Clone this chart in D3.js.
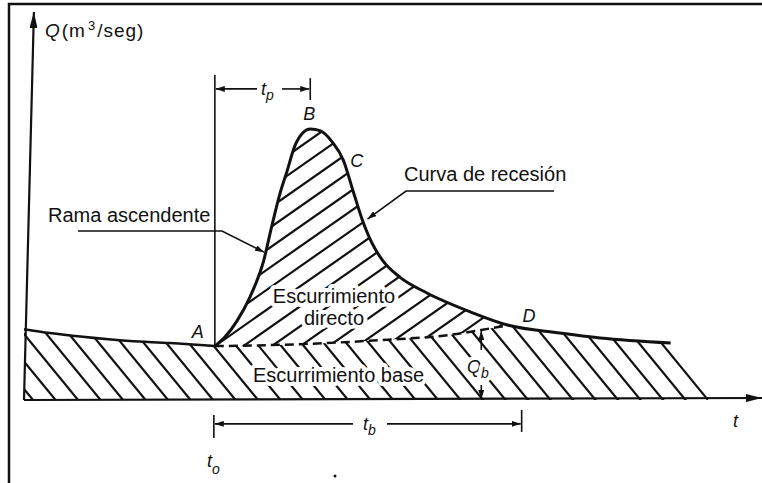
<!DOCTYPE html>
<html>
<head>
<meta charset="utf-8">
<script src="https://cdn.jsdelivr.net/npm/d3@7"></script>
<style>
  body { margin: 0; background: #fff; }
  svg { display: block; font-family: "Liberation Sans", Arial, sans-serif; }
  .lbl { font-size: 20px; fill: #111; }
  .it { font-style: italic; }
  .halo { paint-order: stroke; stroke: #fff; stroke-width: 8px; stroke-linejoin: round; }
</style>
</head>
<body>
<div id="chart"></div>
<script>
// values (t and Q in relative units, 0-100)
const baseT = [0, 3.5, 8, 14.4, 19.9, 26];
const baseQ = [18.4, 17.4, 16.4, 15.3, 14.8, 14.0];

const hydroT = [26, 27.4, 29.0, 30.8, 32.6, 33.8, 34.9, 35.8, 36.9, 38.0, 39.0, 40.4, 42.0, 43.5, 44.8, 46.0, 47.4, 48.8, 51.2, 54.9, 60.8, 66.0, 73.0, 78.5, 88.1];
const hydroQ = [14.0, 16.4, 20.5, 26.8, 35.8, 45.5, 53.8, 59.2, 66.0, 69.4, 70.4, 69.9, 67.0, 62.3, 54.5, 47.3, 40.8, 36.4, 31.9, 27.8, 22.9, 19.4, 17.4, 16.1, 14.8];

// separation line between direct runoff and base flow (A -> D)
const sepT = [26, 37.6, 48.9, 58.0, 62.3, 66.0];
const sepQ = [14.0, 14.5, 15.6, 16.9, 18.2, 19.4];

const baseEndT = 93.2;   // base flow hatch reaches the t axis here
const tbEndT = 67.8;     // end of t_b
const qbT = 62.3;        // where Q_b is measured

const W = 762, H = 483;
const x = d3.scaleLinear().domain([0, 100]).range([24, 758]);
const y = d3.scaleLinear().domain([0, 100]).range([400, 15]);

const pts = (ts, qs) => ts.map((t, i) => ({ t, q: qs[i] }));
const base = pts(baseT, baseQ);
const hydro = pts(hydroT, hydroQ);
const sep = pts(sepT, sepQ);

const iB = d3.maxIndex(hydroQ);
const iC = 13;
const iD = hydroT.indexOf(sepT[sepT.length - 1]);
const A = hydro[0], B = hydro[iB], C = hydro[iC], D = hydro[iD];
const tail = hydro[hydro.length - 1];

const line = d3.line().x(d => x(d.t)).y(d => y(d.q)).curve(d3.curveMonotoneX);
const cont = p => line(p).replace(/^M/, "L");

const svg = d3.select("#chart").append("svg").attr("width", W).attr("height", H);
const defs = svg.append("defs");

function marker(id, w, h) {
    defs.append("marker")
        .attr("id", id)
        .attr("viewBox", `0 0 ${w} ${h}`)
        .attr("markerUnits", "userSpaceOnUse")
        .attr("markerWidth", w).attr("markerHeight", h)
        .attr("refX", w).attr("refY", h / 2)
        .attr("orient", "auto")
        .append("path")
        .attr("d", `M0,0L${w},${h / 2}L0,${h}Z`)
        .attr("fill", "#111");
}
marker("big", 16, 8);
marker("small", 9, 6);

// clip regions
defs.append("clipPath").attr("id", "clipBase").append("path")
    .attr("d", `M${x(0)},${y(0)}` + cont(base) + cont(sep) + cont(hydro.slice(iD)) +
        `L${x(baseEndT)},${y(tail.q)}L${x(baseEndT)},${y(0)}Z`);
defs.append("clipPath").attr("id", "clipDirect").append("path")
    .attr("d", line(hydro.slice(0, iD + 1)) + cont(sep.slice().reverse()) + "Z");

// frame
svg.append("rect")
    .attr("x", 9).attr("y", 4).attr("width", W + 20).attr("height", H + 20)
    .attr("fill", "none").attr("stroke", "#111").attr("stroke-width", 2.5);

// base flow hatch "\" anchored at the end of the base flow
const gBase = svg.append("g").attr("clip-path", "url(#clipBase)")
    .attr("stroke", "#111").attr("stroke-width", 2.2);
const bx0 = x(baseEndT), by0 = y(0), bslope = 0.82, bstep = 22.5;
gBase.selectAll("line")
    .data(d3.range(0, 34))
    .join("line")
    .attr("x1", k => bx0 - k * bstep + bslope * 6).attr("y1", by0 + 6)
    .attr("x2", k => bx0 - k * bstep - bslope * (by0 - 310)).attr("y2", 310);

// direct runoff hatch "/" anchored at A
const gDir = svg.append("g").attr("clip-path", "url(#clipDirect)")
    .attr("stroke", "#111").attr("stroke-width", 2.2);
const ax0 = x(A.t), ay0 = y(A.q), dslope = 1 / Math.tan(35 * Math.PI / 180), dstep = 28.5;
gDir.selectAll("line")
    .data(d3.range(-14, 16))
    .join("line")
    .attr("x1", k => ax0 + k * dstep - dslope * 20).attr("y1", ay0 + 20)
    .attr("x2", k => ax0 + k * dstep + dslope * (ay0 - 110)).attr("y2", 110);

// labels inside the hatched areas
function label(xp, yp, txt, cls, anchor) {
    return svg.append("text").attr("class", "lbl " + (cls || ""))
        .attr("x", xp).attr("y", yp)
        .attr("text-anchor", anchor || "start").text(txt);
}
label(334, 303, "Escurrimiento", "halo", "middle");
label(334, 325, "directo", "halo", "middle");
label(253, 382, "Escurrimiento base", "halo");

const qb = svg.append("text").attr("class", "lbl halo").attr("x", 467).attr("y", 373);
qb.append("tspan").attr("class", "it").style("font-size", "18px").text("Q");
qb.append("tspan").attr("dy", 5).style("font-size", "14px").attr("class", "it").text("b");

// outlines
svg.append("path").attr("d", line(base))
    .attr("fill", "none").attr("stroke", "#111").attr("stroke-width", 2.5);
svg.append("path").attr("d", line(hydro))
    .attr("fill", "none").attr("stroke", "#111").attr("stroke-width", 3);
svg.append("path").attr("d", line(sep))
    .attr("fill", "none").attr("stroke", "#111").attr("stroke-width", 2.5)
    .attr("stroke-dasharray", "9,5");

// axes
svg.append("line")
    .attr("x1", x(0)).attr("y1", y(0)).attr("x2", W).attr("y2", y(0) - 2)
    .attr("stroke", "#111").attr("stroke-width", 2.2).attr("marker-end", "url(#big)");
svg.append("line")
    .attr("x1", x(0)).attr("y1", y(0)).attr("x2", x(1.35)).attr("y2", 12)
    .attr("stroke", "#111").attr("stroke-width", 2.2).attr("marker-end", "url(#big)");

// vertical line at t0
svg.append("line")
    .attr("x1", x(A.t)).attr("y1", y(A.q)).attr("x2", x(A.t)).attr("y2", y(84.4))
    .attr("stroke", "#111").attr("stroke-width", 1.6);

// axis labels
const ql = svg.append("text").attr("class", "lbl").attr("x", 45).attr("y", 37)
    .style("font-size", "19px").style("letter-spacing", "1px");
ql.append("tspan").attr("class", "it").text("Q");
ql.append("tspan").attr("dx", 1).text("(m");
ql.append("tspan").attr("dx", 2).attr("dy", -7).style("font-size", "13px").text("3");
ql.append("tspan").attr("dx", 1).attr("dy", 7).text("/seg)");

label(733, 427, "t", "it").style("font-size", "18px");

function tsub(xp, yp, s, dy) {
    const t = svg.append("text").attr("class", "lbl it").attr("x", xp).attr("y", yp)
        .style("font-size", "18px");
    t.append("tspan").text("t");
    t.append("tspan").attr("dy", dy).style("font-size", "14px").text(s);
}
tsub(207, 467, "o", 7);
tsub(261, 95, "p", 5);
tsub(363, 430, "b", 5);

// point letters
label(x(A.t) - 11, 338, "A", "it", "end").style("font-size", "18px");
label(x(B.t) - 7, y(B.q) - 9, "B", "it").style("font-size", "18px");
label(x(C.t) + 7, y(C.q) + 7, "C", "it").style("font-size", "18px");
label(x(D.t) + 14, y(D.q) - 3, "D", "it").style("font-size", "18px");

// leaders
label(48, 222, "Rama ascendente", "halo");
label(404, 181, "Curva de recesión");

function poly(points, withArrow) {
    svg.append("path")
        .attr("d", d3.line()(points))
        .attr("fill", "none").attr("stroke", "#111").attr("stroke-width", 1.6)
        .attr("marker-end", withArrow ? "url(#small)" : null);
}
poly([[78, 231], [222, 231], [x(32.7), y(38.4)]], true);
poly([[554, 191], [406, 191], [x(46.8), y(47)]], true);

// t_p
const yp = y(80.8);
poly([[257, yp], [x(A.t) + 1, yp]], true);
poly([[282, yp], [x(B.t) - 1, yp]], true);
poly([[x(B.t), y(83.6)], [x(B.t), y(77.9)]]);

// t_b
const yb = y(-6.2);
poly([[x(A.t) - 1, y(-3.9)], [x(A.t) - 1, y(-9.9)]]);
poly([[353, yb], [x(A.t), yb]], true);
poly([[387, yb], [x(tbEndT) - 1, yb]], true);
poly([[x(tbEndT), y(-2.6)], [x(tbEndT), y(-8.3)]]);

// Q_b
const qbq = sepQ[sepT.indexOf(qbT)];
poly([[x(qbT), y(qbq) + 20], [x(qbT), y(qbq) + 1]], true);
poly([[x(qbT), 385], [x(qbT), y(0) - 1]], true);

// speck from the scan
svg.append("circle").attr("cx", 335).attr("cy", 476).attr("r", 1.5).attr("fill", "#111");
</script>
</body>
</html>
